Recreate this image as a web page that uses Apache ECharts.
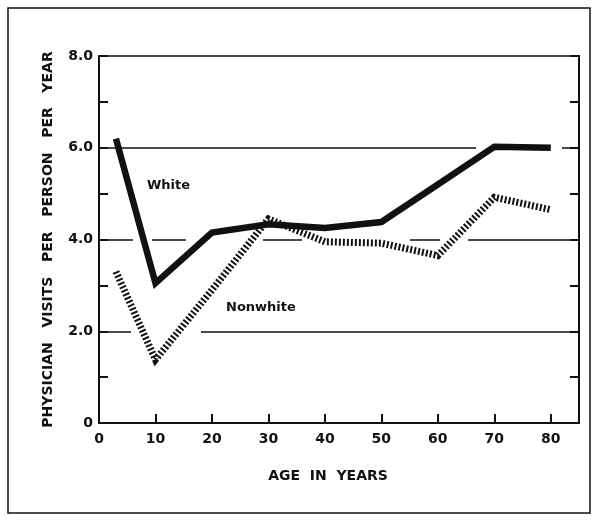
<!DOCTYPE html>
<html>
<head>
<meta charset="utf-8">
<script src="https://cdn.jsdelivr.net/npm/echarts@6/dist/echarts.min.js"></script>
<style>
  html, body { margin: 0; padding: 0; background: #fff; }
  #chart { width: 594px; height: 521px; }
</style>
</head>
<body>
<div id="chart"></div>
<script>
// ages (years) and physician visits per person per year
const ages = [3, 10, 20, 30, 40, 50, 60, 70, 80]
const white = [6.2, 3.05, 4.15, 4.33, 4.25, 4.38, 5.2, 6.02, 6.0]
const nonwhite = [3.3, 1.38, 2.9, 4.45, 3.95, 3.92, 3.65, 4.92, 4.65]

const refLines = [6, 4, 2]
const xTicks = [0, 10, 20, 30, 40, 50, 60, 70, 80]

const ink = '#111'
const font = 'DejaVu Sans'

const chart = echarts.init(document.getElementById('chart'))

// hand-drawn reference lines have uneven gaps
const refDash = {
  6: [377, 86],
  4: [34, 19, 34, 77, 39, 108, 30, 28, 112],
  2: [32, 70, 400]
}

chart.setOption({
  backgroundColor: '#fff',
  animation: false,
  grid: {
    left: 99, right: 15, top: 56, bottom: 98,
    show: true, borderColor: ink, borderWidth: 1.5
  },
  xAxis: {
    type: 'value', min: 0, max: 85, interval: 10,
    name: 'AGE  IN  YEARS', nameLocation: 'middle', nameGap: 46,
    nameTextStyle: {
      color: ink, fontFamily: font, fontWeight: 'bold', fontSize: 14,
      padding: [0, 22, 0, 0]
    },
    axisLine: { lineStyle: { color: ink, width: 2 } },
    axisTick: { inside: true, length: 9, lineStyle: { color: ink, width: 2 } },
    axisLabel: {
      color: ink, fontFamily: font, fontWeight: 'bold', fontSize: 14, margin: 9,
      formatter: v => xTicks.includes(v) ? String(v) : ''
    },
    splitLine: { show: false }
  },
  yAxis: [{
    type: 'value', min: 0, max: 8, interval: 1,
    name: 'PHYSICIAN   VISITS   PER   PERSON   PER   YEAR', nameLocation: 'middle', nameGap: 44,
    nameTextStyle: { color: ink, fontFamily: font, fontWeight: 'bold', fontSize: 14 },
    axisLine: { show: true, lineStyle: { color: ink, width: 2 } },
    axisTick: { inside: true, length: 9, lineStyle: { color: ink, width: 2 } },
    axisLabel: {
      color: ink, fontFamily: font, fontWeight: 'bold', fontSize: 14, margin: 6,
      formatter: v => v === 0 ? '0' : (v % 2 === 0 ? v.toFixed(1) : '')
    },
    splitLine: { show: false }
  }, {
    type: 'value', min: 0, max: 8, interval: 1, position: 'right',
    axisLine: { show: true, lineStyle: { color: ink, width: 2 } },
    axisTick: { inside: true, length: 9, lineStyle: { color: ink, width: 2 } },
    axisLabel: { show: false },
    splitLine: { show: false }
  }],
  series: [{
    type: 'line',
    name: 'ref',
    data: [],
    z: 1,
    silent: true,
    markLine: {
      silent: true,
      symbol: 'none',
      label: { show: false },
      data: refLines.map(v => ({
        yAxis: v,
        lineStyle: { color: ink, width: 1.6, type: refDash[v] }
      }))
    }
  }, {
    type: 'line',
    name: 'Nonwhite',
    data: ages.map((a, i) => [a, nonwhite[i]]),
    z: 3,
    symbol: 'none',
    lineStyle: { color: ink, width: 7, type: [2, 2], cap: 'butt', join: 'miter', miterLimit: 3 }
  }, {
    type: 'line',
    name: 'White',
    data: ages.map((a, i) => [a, white[i]]),
    z: 4,
    symbol: 'none',
    lineStyle: { color: ink, width: 6.5, cap: 'butt', join: 'miter', miterLimit: 4 }
  }],
  graphic: [{
    type: 'rect',
    shape: { x: 8, y: 8, width: 582, height: 505 },
    style: { fill: 'none', stroke: ink, lineWidth: 1.5 }
  }, {
    type: 'text', left: 147, top: 179,
    style: { text: 'White', fill: ink, font: 'bold 13px "DejaVu Sans"' }
  }, {
    type: 'text', left: 226, top: 301,
    style: { text: 'Nonwhite', fill: ink, font: 'bold 13px "DejaVu Sans"' }
  }]
})
</script>
</body>
</html>
